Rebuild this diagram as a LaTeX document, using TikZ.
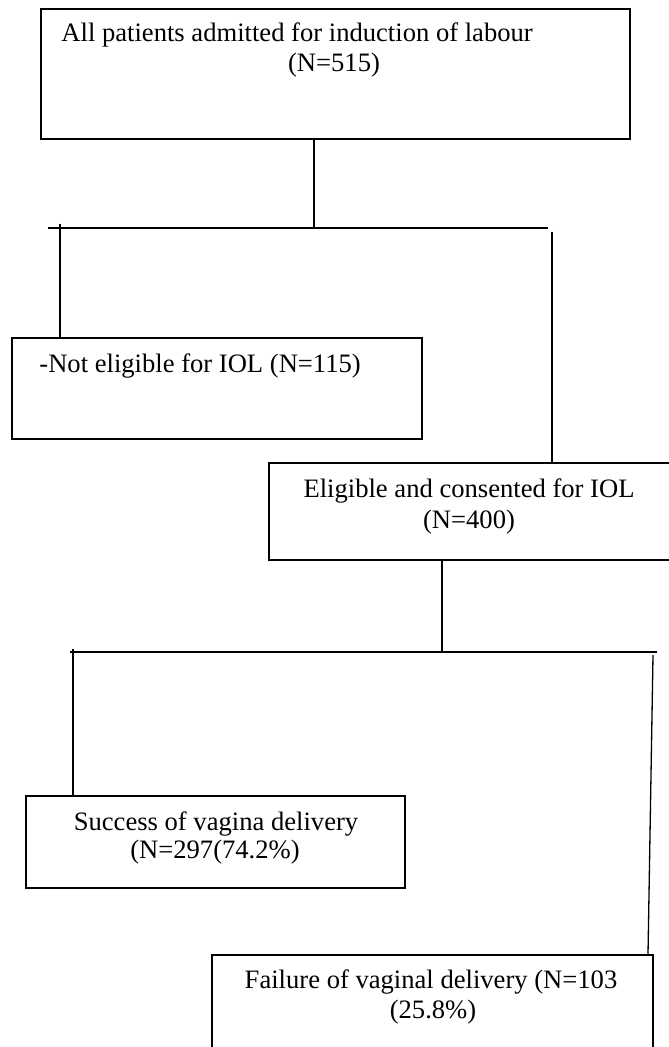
\documentclass[tikz,border=0pt]{standalone}
\usepackage{fontspec}
\setmainfont{Liberation Serif}
\usetikzlibrary{calc}
\tikzset{
  flowbox/.style = {rectangle, draw=black, line width=1pt, inner sep=0pt},
  flowtext/.style = {anchor=base, inner sep=0pt, font=\fontsize{13.3}{15}\selectfont},
  link/.style = {draw=black, line width=0.65pt},
}

\begin{document}
\begin{tikzpicture}[x=0.5pt, y=-0.5pt]
\useasboundingbox (0,0) rectangle (668,1047);
% boxes
\node [flowbox, minimum width=294.5pt, minimum height=65pt] (all) at (335.5,74) {};
\node [flowbox, minimum width=205pt, minimum height=50.5pt] (no) at (217,388.5) {};
\node [flowbox, minimum width=201.5pt, minimum height=48.5pt] (yes) at (470.5,511.5) {};
\node [flowbox, minimum width=189.5pt, minimum height=46pt] (ok) at (215.5,842) {};
\node [flowbox, minimum width=220.5pt, minimum height=48.5pt] (fail) at (432.5,1003.5) {};
% texts
\node [flowtext, anchor=base west] (allA) at (61,42) {All patients admitted for induction of labour};
\node [flowtext] (allB) at (334,72) {(N=515)};
\node [flowtext, anchor=base west] (noA) at (39,372) {-Not eligible for IOL (N=115)};
\node [flowtext] (yesA) at (469,497) {Eligible and consented for IOL};
\node [flowtext] (yesB) at (469,528) {(N=400)};
\node [flowtext] (okA) at (216,830) {Success of vagina delivery};
\node [flowtext] (okB) at (215,858) {(N=297(74.2\%)};
\node [flowtext] (failA) at (431,988) {Failure of vaginal delivery (N=103};
\node [flowtext] (failB) at (433,1018) {(25.8\%)};
% first split
\coordinate (j1) at (314,228);
\coordinate (j1l) at (48,228);
\coordinate (j1r) at (548,228);
\coordinate (t1) at (60,224);
\coordinate (t2) at (552,232);
\draw[link] (j1 |- all.south) -- (j1);
\draw[link] (j1l) -- (j1r);
\draw[link, line width=1.2pt] ($(j1)+(-48,0)$) -- ($(j1)+(8,0)$);
\draw[link] (t1) -- (t1 |- no.north);
\draw[link] (t2) -- (t2 |- yes.north);
% second split
\coordinate (j2) at (442,652);
\coordinate (j2l) at (70,652);
\coordinate (j2r) at (657,652);
\coordinate (t3) at (73,649);
\coordinate (t4) at (653,655);
\draw[link] (j2 |- yes.south) -- (j2);
\draw[link] (j2l) -- (j2r);
\draw[link] (t3) -- (t3 |- ok.north);
\draw[link] (t4) -- ($(fail.north east)+(-6,0)$);
\end{tikzpicture}
\end{document}
